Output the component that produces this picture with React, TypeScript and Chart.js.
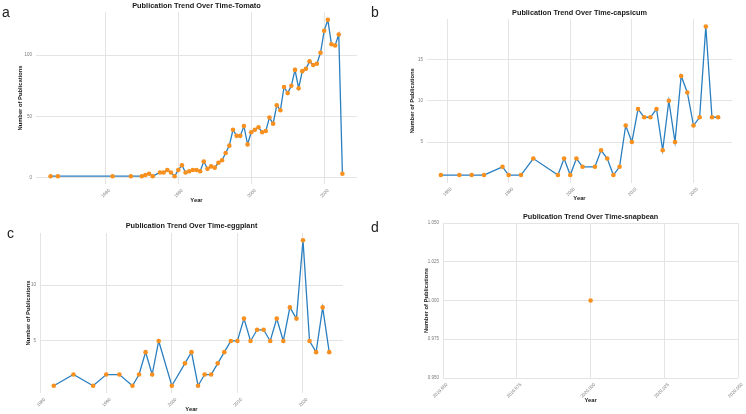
import React, { useEffect, useRef } from "react";
import { Chart, registerables } from "chart.js";
Chart.register(...registerables);

// ---- Data ----
const tomatoYears = [1945, 1947, 1962, 1967, 1970, 1971, 1972, 1973, 1975, 1976, 1977, 1978, 1979, 1980, 1981, 1982, 1983, 1984, 1985, 1986, 1987, 1988, 1989, 1990, 1991, 1992, 1993, 1994, 1995, 1996, 1997, 1998, 1999, 2000, 2001, 2002, 2003, 2004, 2005, 2006, 2007, 2008, 2009, 2010, 2011, 2012, 2013, 2014, 2015, 2016, 2017, 2018, 2019, 2020, 2021, 2022, 2023, 2024, 2025];
const tomatoCounts = [1, 1, 1, 1, 1, 2, 3, 1, 4, 4, 6, 4, 1, 6, 10, 4, 5, 6, 6, 5, 13, 7, 9, 8, 12, 14, 20, 26, 39, 34, 34, 42, 27, 37, 39, 41, 37, 38, 49, 44, 59, 55, 74, 69, 75, 88, 73, 87, 89, 95, 92, 93, 102, 120, 129, 109, 108, 117, 3];

const capsicumYears = [1979, 1982, 1984, 1986, 1989, 1990, 1992, 1994, 1998, 1999, 2000, 2001, 2002, 2004, 2005, 2006, 2007, 2008, 2009, 2010, 2011, 2012, 2013, 2014, 2015, 2016, 2017, 2018, 2019, 2020, 2021, 2022, 2023, 2024];
const capsicumCounts = [1, 1, 1, 1, 2, 1, 1, 3, 1, 3, 1, 3, 2, 2, 4, 3, 1, 2, 7, 5, 9, 8, 8, 9, 4, 10, 5, 13, 11, 7, 8, 19, 8, 8];

const eggplantYears = [1982, 1985, 1988, 1990, 1992, 1994, 1995, 1996, 1997, 1998, 2000, 2002, 2003, 2004, 2005, 2006, 2007, 2008, 2009, 2010, 2011, 2012, 2013, 2014, 2015, 2016, 2017, 2018, 2019, 2020, 2021, 2022, 2023, 2024];
const eggplantCounts = [1, 2, 1, 2, 2, 1, 2, 4, 2, 5, 1, 3, 4, 1, 2, 2, 3, 4, 5, 5, 7, 5, 6, 6, 5, 7, 5, 8, 7, 14, 5, 4, 8, 4];

const snapbeanYears = [2020];
const snapbeanCounts = [1];

const tomatoXTicks = [1960, 1980, 2000, 2020];
const tomatoYTicks = [0, 50, 100];
const capsicumXTicks = [1980, 1990, 2000, 2010, 2020];
const capsicumYTicks = [5, 10, 15];
const eggplantXTicks = [1980, 1990, 2000, 2010, 2020];
const eggplantYTicks = [5, 10];
const snapbeanXTicks = [2019.95, 2019.975, 2020.0, 2020.025, 2020.05];
const snapbeanYTicks = [0.95, 0.975, 1.0, 1.025, 1.05];

// ---- Style ----
const W = 746;
const H = 414;
const FAMILY = "'Liberation Sans', Arial, Helvetica, sans-serif";
const LINE = "#2a7fc0";
const ORANGE = "#f7901e";
const GRID = "#e4e4e4";
const TICK_COLOR = "#7a7a7a";
const TEXT = "#1a1a1a";
const AX_SIZE = 5.8;
const TICK_SIZE = 4.5;

type Panel = {
  title: string;
  titleSize: number;
  years: number[];
  counts: number[];
  xMin: number; xMax: number; yMin: number; yMax: number;
  xTicks: number[]; yTicks: number[];
  decimals: number;
  area: { left: number; right: number; top: number; bottom: number };
  titleY: number; yearY: number; yTitleX: number;
};

const panels: Panel[] = [
  {
    title: "Publication Trend Over Time-Tomato", titleSize: 7.4,
    years: tomatoYears, counts: tomatoCounts,
    xMin: 1941, xMax: 2029, yMin: -5.4, yMax: 135.4,
    xTicks: tomatoXTicks, yTicks: tomatoYTicks, decimals: 0,
    area: { left: 36, right: 357, top: 12, bottom: 184 },
    titleY: 6, yearY: 200, yTitleX: 20.5,
  },
  {
    title: "Publication Trend Over Time-capsicum", titleSize: 7.3,
    years: capsicumYears, counts: capsicumCounts,
    xMin: 1976.75, xMax: 2026.25, yMin: 0.1, yMax: 19.9,
    xTicks: capsicumXTicks, yTicks: capsicumYTicks, decimals: 0,
    area: { left: 427, right: 732, top: 19, bottom: 182.5 },
    titleY: 12.7, yearY: 198, yTitleX: 412.7,
  },
  {
    title: "Publication Trend Over Time-eggplant", titleSize: 7.3,
    years: eggplantYears, counts: eggplantCounts,
    xMin: 1979.9, xMax: 2026.1, yMin: 0.35, yMax: 14.65,
    xTicks: eggplantXTicks, yTicks: eggplantYTicks, decimals: 0,
    area: { left: 40, right: 343, top: 233, bottom: 393 },
    titleY: 226, yearY: 409, yTitleX: 28.3,
  },
  {
    title: "Publication Trend Over Time-snapbean", titleSize: 7.3,
    years: snapbeanYears, counts: snapbeanCounts,
    xMin: 2019.95, xMax: 2020.05, yMin: 0.95, yMax: 1.05,
    xTicks: snapbeanXTicks, yTicks: snapbeanYTicks, decimals: 3,
    area: { left: 443, right: 741, top: 223, bottom: 378 },
    titleY: 216.7, yearY: 400, yTitleX: 426,
  },
];

const letters = [
  { t: "a", x: 2, y: 4 },
  { t: "b", x: 371, y: 4 },
  { t: "c", x: 7, y: 225 },
  { t: "d", x: 371, y: 219 },
];

function PanelChart({ p }: { p: Panel }) {
  const ref = useRef<HTMLCanvasElement>(null);
  useEffect(() => {
    if (!ref.current) return;
    const tLH = p.titleSize * 1.2;
    const aLH = AX_SIZE * 1.2;
    const fmt = (v: number) => (p.decimals ? Number(v).toFixed(p.decimals) : String(Math.round(Number(v))));
    const chart = new Chart(ref.current, {
      type: "line",
      data: {
        datasets: [
          {
            data: p.years.map((x, i) => ({ x, y: p.counts[i] })),
            borderColor: LINE,
            borderWidth: 1.3,
            pointRadius: 2.3,
            pointBackgroundColor: ORANGE,
            pointBorderColor: ORANGE,
            pointBorderWidth: 0,
            tension: 0,
            clip: 6,
          },
        ],
      },
      options: {
        responsive: false,
        animation: false,
        devicePixelRatio: 1,
        events: [],
        layout: { padding: { left: 0, top: 0, right: W - p.area.right, bottom: 0 } },
        plugins: {
          legend: { display: false },
          tooltip: { enabled: false },
          title: {
            display: true,
            text: p.title,
            fullSize: false,
            color: TEXT,
            font: { family: FAMILY, size: p.titleSize, weight: "bold" },
            padding: { top: p.titleY - tLH / 2, bottom: p.area.top - p.titleY - tLH / 2 },
          },
        },
        scales: {
          x: {
            type: "linear",
            min: p.xMin,
            max: p.xMax,
            afterBuildTicks: (s: any) => {
              s.ticks = p.xTicks.map((v) => ({ value: v }));
            },
            afterFit: (s: any) => {
              s.height = H - p.area.bottom;
            },
            grid: { color: GRID, lineWidth: 1, drawTicks: false },
            border: { display: false },
            ticks: {
              autoSkip: false,
              maxRotation: 45,
              minRotation: 45,
              padding: 4,
              labelOffset: 4,
              color: TICK_COLOR,
              font: { family: FAMILY, size: TICK_SIZE },
              callback: (v: any) => fmt(v),
            },
            title: {
              display: true,
              text: "Year",
              color: TEXT,
              font: { family: FAMILY, size: AX_SIZE, weight: "bold" },
              padding: { top: 0, bottom: H - p.yearY - aLH / 2 },
            },
          },
          y: {
            type: "linear",
            min: p.yMin,
            max: p.yMax,
            afterBuildTicks: (s: any) => {
              s.ticks = p.yTicks.map((v) => ({ value: v }));
            },
            afterFit: (s: any) => {
              s.width = p.area.left;
            },
            grid: { color: GRID, lineWidth: 1, drawTicks: false },
            border: { display: false },
            ticks: {
              autoSkip: false,
              padding: 4,
              color: TICK_COLOR,
              font: { family: FAMILY, size: TICK_SIZE },
              callback: (v: any) => fmt(v),
            },
            title: {
              display: true,
              text: "Number of Publications",
              color: TEXT,
              font: { family: FAMILY, size: AX_SIZE, weight: "bold" },
              padding: { top: p.yTitleX - aLH / 2, bottom: 0 },
            },
          },
        },
      } as any,
    });
    return () => chart.destroy();
  }, [p]);
  return (
    <canvas
      ref={ref}
      width={W}
      height={H}
      style={{ position: "absolute", left: 0, top: 0, width: W, height: H }}
    />
  );
}

export default function App() {
  return (
    <div
      style={{
        position: "fixed",
        left: 0,
        top: 0,
        width: W,
        height: H,
        background: "#ffffff",
        overflow: "hidden",
      }}
    >
      {panels.map((p, i) => (
        <PanelChart key={i} p={p} />
      ))}
      {letters.map((l) => (
        <div
          key={l.t}
          style={{
            position: "absolute",
            left: l.x,
            top: l.y,
            fontFamily: FAMILY,
            fontSize: 14,
            lineHeight: "16px",
            color: "#222",
          }}
        >
          {l.t}
        </div>
      ))}
    </div>
  );
}
